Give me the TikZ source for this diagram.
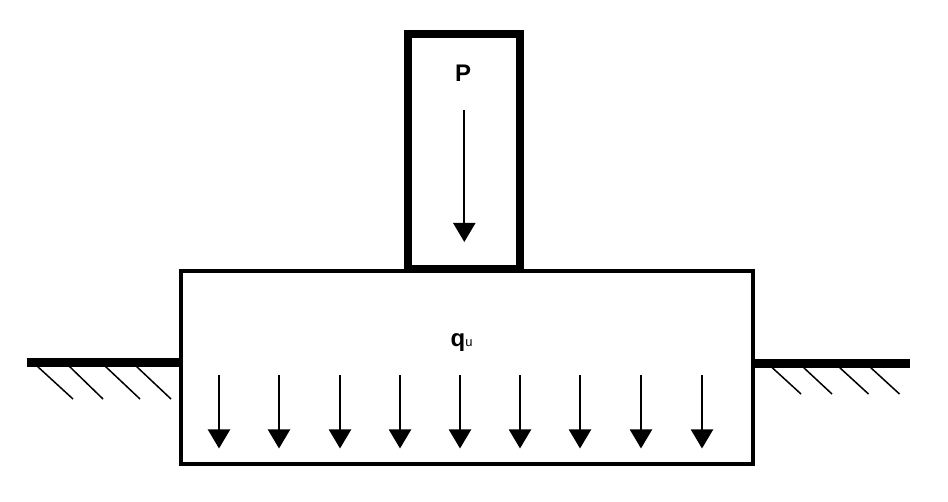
\documentclass[tikz,border=0pt]{standalone}
\usepackage{fontspec}
\setmainfont{Liberation Sans}
\usetikzlibrary{arrows.meta}
\tikzset{
  footing/.style={draw=black,line width=4pt,fill=white,inner sep=0pt,minimum width=572pt,minimum height=192.5pt},
  column/.style={draw=black,line width=8pt,inner sep=0pt,minimum width=112.5pt,minimum height=235.3pt},
  ground/.style={line width=8.4pt,black},
  hatch/.style={line width=1.5pt,black},
  force/.style={line width=2pt,black,-{Triangle[length=19pt,width=22pt]}},
  lbl/.style={font=\bfseries\fontsize{24}{27}\selectfont,inner sep=0pt}
}
\begin{document}
\begin{tikzpicture}[x=1pt,y=-1pt]
\useasboundingbox (0,0) rectangle (948,502);
\fill[white] (0,0) rectangle (948,502);
\node[footing] (base) at (467,367.75) {};
\node[column] (col) at (463.75,151.65) {};
% ground
\coordinate (gl) at (26.5,362.5);
\coordinate (gr) at (910,363.5);
\draw[ground] (gl) -- (gl -| base.west);
\draw[ground] (gr -| base.east) -- (gr);
% hatching
\foreach \a/\b/\c/\d in {37/366/73/399,69/366/103/399,105/366/140/399,136/366/171/399,
  771.5/367/801/394,803/367/832/394,839/367/868.5/394,870/367/899.5/394}
  \draw[hatch] (\a,\b) -- (\c,\d);
% labels
\node[lbl] (P) at (463,73.5) {P};
\node[lbl,anchor=base west] (q) at (450.5,346.5) {q\fontsize{13}{15}\selectfont\mdseries u};
% arrows
\coordinate (ps) at (464.3,110);
\coordinate (pe) at (464.3,242);
\draw[force] (ps) -- (pe);
\foreach \x in {219,279,340,400,460,520,580,641,702}{
  \coordinate (s\x) at (\x,375);
  \coordinate (e\x) at (\x,448.5);
  \draw[force] (s\x) -- (e\x);
}
\end{tikzpicture}
\end{document}
